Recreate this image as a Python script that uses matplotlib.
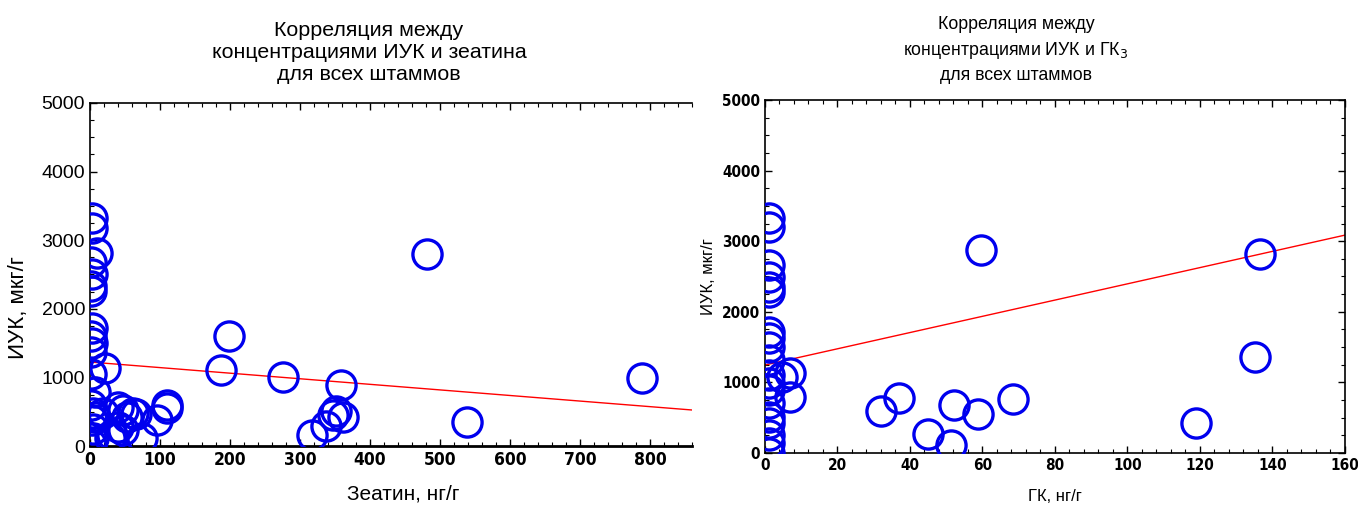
import matplotlib
matplotlib.use("Agg")
import matplotlib.pyplot as plt
from matplotlib.ticker import MultipleLocator, AutoMinorLocator

plt.rcParams['font.family'] = ['Liberation Sans', 'DejaVu Sans']
NARROW = ['DejaVu Sans Condensed', 'DejaVu Sans']

# Левый график: зеатин (нг/г) vs ИУК (мкг/г)
zeatin = [3, 3, 10, 2, 3, 2, 2, 3, 2, 3, 2, 21, 2, 7, 2, 4, 3, 4, 4, 2,
          19, 7, 40, 47, 61, 53, 40, 31, 29, 47, 74, 96, 110, 110, 65,
          187, 198, 275, 317, 337, 347, 352, 362, 358, 482, 538, 789]
iaa_z = [3330, 3180, 2810, 2680, 2500, 2330, 2260, 1720, 1600, 1500, 1370, 1140, 1050, 790, 600, 480, 380, 250, 120, 30,
         481, 423, 569, 525, 481, 423, 277, 160, 117, 233, 117, 379, 598, 554, 470,
         1108, 1603, 1006, 160, 292, 452, 510, 423, 889, 2800, 350, 990]
fit_z = (1224, -0.813)   # intercept, slope

# Правый график: ГК3 (нг/г) vs ИУК (мкг/г)
ga = [1, 1, 1, 1, 1, 1, 1, 1, 1, 1, 1, 1, 1, 1, 1, 1, 1, 1, 1,
      4.7, 6.9, 6.9, 32, 37, 45, 51.3, 52.1, 58.8, 59.6, 68.4, 119, 135.2, 136.5]
iaa_g = [3330, 3200, 2660, 2490, 2350, 2280, 1710, 1630, 1500, 1320, 1105, 990, 892, 708, 510, 425, 255, 142, 0,
         1077, 1133, 793, 595, 779, 269, 113, 680, 552, 2875, 765, 425, 1360, 2820]
fit_g = (1246, 11.5)

fig = plt.figure(figsize=(13.58, 5.07), dpi=100)
ax1 = fig.add_axes([0.0663, 0.1203, 0.4433, 0.6767])
ax2 = fig.add_axes([0.5633, 0.1065, 0.4271, 0.6963])


def scatter_panel(ax, x, y, fit, xmax):
    ax.plot(x, y, 'o', ms=21, mfc='none', mec='#0000ee', mew=2.4, zorder=3)
    ax.plot([0, xmax], [fit[0], fit[0] + fit[1] * xmax], color='red', lw=1, zorder=2)
    ax.set_xlim(0, xmax)
    ax.set_ylim(0, 5000)
    ax.yaxis.set_major_locator(MultipleLocator(1000))
    ax.yaxis.set_minor_locator(AutoMinorLocator(4))
    ax.tick_params(which='both', direction='in', top=True)
    ax.tick_params(which='major', length=5, width=1)
    ax.tick_params(which='minor', length=3, width=0.8)
    for s in ax.spines.values():
        s.set_linewidth(1.2)


def narrow_bold(labels, size):
    for lab in labels:
        lab.set_family(NARROW)
        lab.set_stretch('condensed')
        lab.set_fontweight('bold')
        lab.set_fontsize(size)


scatter_panel(ax1, zeatin, iaa_z, fit_z, 860)
ax1.spines['right'].set_visible(False)
ax1.xaxis.set_major_locator(MultipleLocator(100))
ax1.xaxis.set_minor_locator(AutoMinorLocator(5))
ax1.spines['bottom'].set_linewidth(2)
narrow_bold(ax1.get_xticklabels(), 12.5)
for lab in ax1.get_yticklabels():
    lab.set_fontsize(14)
ax1.set_xlabel('Зеатин, нг/г', fontsize=15)
ax1.xaxis.set_label_coords((403 - 90) / 602, -(484 - 446) / 343)
ax1.set_ylabel('ИУК, мкг/г', fontsize=16)
ax1.yaxis.set_label_coords((29 - 90) / 602, (446 - 308) / 343)

scatter_panel(ax2, ga, iaa_g, fit_g, 160)
ax2.tick_params(which='both', right=True)
ax2.xaxis.set_major_locator(MultipleLocator(20))
ax2.xaxis.set_minor_locator(AutoMinorLocator(5))
narrow_bold(ax2.get_xticklabels() + ax2.get_yticklabels(), 11)
ax2.set_xlabel('ГК, нг/г', fontsize=12)
ax2.xaxis.set_label_coords(0.5, -(489 - 453) / 353)
ax2.set_ylabel('ИУК, мкг/г', fontsize=12)
ax2.yaxis.set_label_coords((716 - 765) / 580, (453 - 277) / 353)

fig.text(369 / 1358, 1 - 52 / 507, 'Корреляция между\nконцентрациями ИУК и зеатина\nдля всех штаммов',
         ha='center', va='center', fontsize=15.4, linespacing=1.2)
fig.text(1016 / 1358, 1 - 50 / 507, 'Корреляция между\nконцентрациями ИУК и ГК$_3$\nдля всех штаммов',
         ha='center', va='center', fontsize=12.8, linespacing=1.43)

fig.savefig('out.png', dpi=100)
